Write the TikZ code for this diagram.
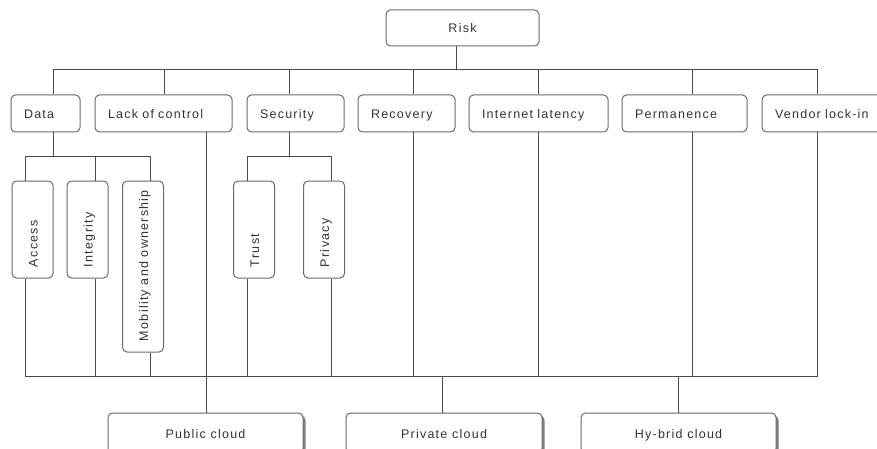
\documentclass[tikz,border=0pt]{standalone}
\usepackage{fontspec}
\setmainfont[LetterSpace=10]{Liberation Sans}
\usetikzlibrary{shadows}
\definecolor{boxline}{HTML}{6A6A6A}
\definecolor{connline}{HTML}{4A4A4A}
\definecolor{labeltext}{HTML}{333333}
\newcommand{\vlabel}[2]{\rotatebox{90}{\makebox[#1][l]{\smash{#2}\rule{0pt}{10pt}}}}
\begin{document}
\begin{tikzpicture}[x=1pt,y=-1pt,
  box/.style={draw=boxline, line width=1pt, rounded corners=4.5pt, fill=white,
    inner sep=0pt, text height=10pt, text depth=0pt,
    font=\fontsize{12.5}{14}\selectfont, text=labeltext},
  centerbox/.style={box, align=center},
  topbox/.style={box, align=left, inner xsep=13pt, minimum height=37pt},
  vbox/.style={box, text height=, text depth=, minimum width=41pt},
  cloudbox/.style={centerbox, minimum width=195pt, minimum height=40pt,
    drop shadow={shadow xshift=2.5pt, shadow yshift=-2.5pt, fill=black!50, opacity=1}},
  conn/.style={draw=connline, line width=1pt}
]
\useasboundingbox (0,0) rectangle (877,449);

% root
\node[centerbox, minimum width=153pt, minimum height=36pt] (risk) at (462.5,28) {Risk};

% first level
\node[topbox, text width=43pt]  (data) at (45.5,113.5)  {Data};
\node[topbox, text width=111pt] (lack) at (163.5,113.5) {Lack of control};
\node[topbox, text width=71pt]  (sec)  at (295.5,113.5) {Security};
\node[topbox, text width=71pt]  (rec)  at (406.5,113.5) {Recovery};
\node[topbox, text width=113pt] (inet) at (538.5,113.5) {Internet latency};
\node[topbox, text width=99pt]  (perm) at (684.5,113.5) {Permanence};
\node[topbox, text width=104pt] (vend) at (827,113.5)   {Vendor lock-in};

% second level, vertical labels
\node[vbox, minimum height=97pt]  (access) at (32.5,229.5) {\vlabel{75pt}{Access}};
\node[vbox, minimum height=97pt]  (integ)  at (87.5,229.5) {\vlabel{75pt}{Integrity}};
\node[vbox, minimum height=171pt] (mob)    at (143,266.5)  {\vlabel{149pt}{Mobility and ownership}};
\node[vbox, minimum height=97pt]  (trust)  at (254,229.5)  {\vlabel{75pt}{Trust}};
\node[vbox, minimum height=97pt]  (priv)   at (324,229.5)  {\vlabel{75pt}{Privacy}};

% deployment models
\node[cloudbox] (pubc)  at (205.5,433) {Public cloud};
\node[cloudbox, minimum width=196pt] (privc) at (444,433) {Private cloud};
\node[cloudbox] (hybc)  at (678.5,433) {Hy-brid cloud};

% root to first level
\draw[conn] ([xshift=-6.5pt]risk.south) -- ++(0,24);
\draw[conn] ([xshift=7.5pt]data.north) -- ++(0,-25) coordinate (busL);
\draw[conn] ([xshift=0.5pt]lack.north) -- ++(0,-25);
\draw[conn] ([xshift=-6.5pt]sec.north) -- ++(0,-25);
\draw[conn] ([xshift=6.5pt]rec.north) -- ++(0,-25);
\draw[conn] ([xshift=-0.5pt]inet.north) -- ++(0,-25);
\draw[conn] ([xshift=7.5pt]perm.north) -- ++(0,-25);
\draw[conn] ([xshift=-10pt]vend.north) -- ++(0,-25) coordinate (busR);
\draw[conn] (busL) -- (busR);

% data branch
\draw[conn] ([xshift=7.5pt]data.south) -- ++(0,25);
\draw[conn] ([xshift=-7.5pt]access.north) -- ++(0,-24) coordinate (dsL);
\draw[conn] ([xshift=7.5pt]integ.north) -- ++(0,-24);
\draw[conn] ([xshift=7pt]mob.north) -- ++(0,-24) coordinate (dsR);
\draw[conn] (dsL) -- (dsR);

% security branch
\draw[conn] ([xshift=-6.5pt]sec.south) -- ++(0,25);
\draw[conn] ([xshift=-7pt]trust.north) -- ++(0,-24) coordinate (ssL);
\draw[conn] ([xshift=7pt]priv.north) -- ++(0,-24) coordinate (ssR);
\draw[conn] (ssL) -- (ssR);

% lines down to the lower bus
\draw[conn] ([xshift=-7.5pt]access.south) -- ++(0,98) coordinate (lbL);
\draw[conn] ([xshift=7.5pt]integ.south) -- ++(0,98);
\draw[conn] ([xshift=7pt]mob.south) -- ++(0,24);
\draw[conn] ([xshift=-7pt]trust.south) -- ++(0,98);
\draw[conn] ([xshift=7pt]priv.south) -- ++(0,98);
\draw[conn] ([xshift=6.5pt]rec.south) -- ++(0,244);
\draw[conn] ([xshift=-0.5pt]inet.south) -- ++(0,244);
\draw[conn] ([xshift=7.5pt]perm.south) -- ++(0,244);
\draw[conn] ([xshift=-10pt]vend.south) -- ++(0,244) coordinate (lbR);
\draw[conn] (lbL) -- (lbR);

% lower bus to deployment models
\draw[conn] ([xshift=42.5pt]lack.south) -- ([xshift=0.5pt]pubc.north);
\draw[conn] ([xshift=-2pt]privc.north) -- ++(0,-37);
\draw[conn] ([xshift=-0.5pt]hybc.north) -- ++(0,-37);
\end{tikzpicture}
\end{document}
